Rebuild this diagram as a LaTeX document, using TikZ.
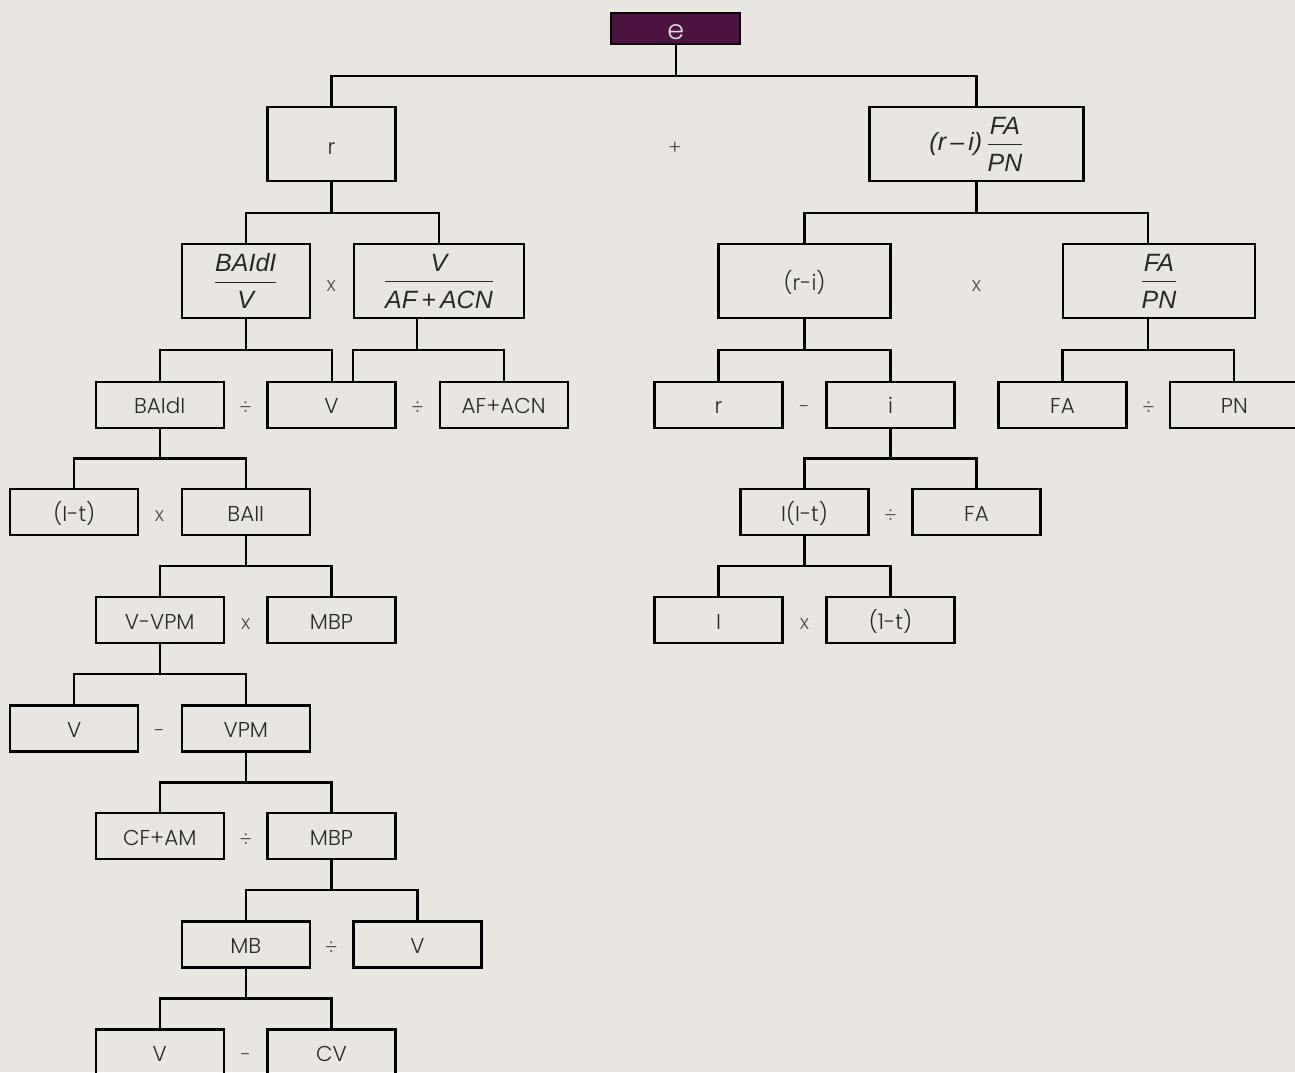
\documentclass[tikz,border=0pt]{standalone}
\usepackage{fontspec}
\usepackage{amsmath}
\setmainfont{Poppins}[UprightFont={* Light}]
\newfontfamily\fitfont{Liberation Sans}
\usetikzlibrary{calc}
\definecolor{bg}{RGB}{233,230,225}
\definecolor{plum}{RGB}{75,19,64}
\definecolor{txt}{RGB}{40,40,40}
\definecolor{opc}{RGB}{80,80,80}
\tikzset{
  conn/.style={line width=2.2pt},
  frame/.style={draw=black, line width=2.2pt, minimum width=128pt, minimum height=46pt,
    inner sep=0pt, text=txt, font=\fontsize{21.5}{25}\selectfont},
  box/.style={frame, text height=18pt, text depth=0pt},
  bigbox/.style={frame, minimum height=74pt, font=\fontsize{25}{30}\selectfont},
  oper/.style={text=opc, font=\fontsize{20}{22}\selectfont, inner sep=0pt},
}
\newcommand\fr[2]{$\displaystyle\frac{\text{\fitfont\itshape #1}\rule[-4pt]{0pt}{4pt}}{\text{\fitfont\itshape #2}\rule{0pt}{23pt}}$}
\newcommand\branch[3]{%
  \path ($(#1)!.5!(#2)$) coordinate (tmp);
  \draw[conn] (#1) -- (#1 |- tmp);
  \draw[conn] (#2) |- (tmp) -| (#3);
}
\begin{document}
\begin{tikzpicture}[x=1pt,y=-1pt]
\fill[bg] (0,0) rectangle (1295,1072);
\useasboundingbox (0,0) rectangle (1295,1072);
\clip (0,0) rectangle (1295,1072);

% level 0
\node[box, fill=plum, minimum width=129pt, minimum height=31pt, text=white!85!plum,
  font=\fontsize{27}{29}\selectfont, text height=21pt] (e) at (675.8,28.8) {e};
% level 1
\node[bigbox, text height=20pt, text depth=0pt, font=\fontsize{21.5}{25}\selectfont] (r) at (331.5,144) {r};
\node[bigbox, minimum width=214pt] (rf) at (976.5,144) {{\fitfont\itshape (r\,–\,i)}\,\fr{FA}{PN}};
\node[oper] (op0) at (675,148) {+};
% level 2
\node[bigbox] (bv) at (245.8,281.3) {\fr{BAIdI}{V}};
\node[bigbox, minimum width=170pt] (vf) at (439,281.3) {\fr{V}{AF\,+\,ACN}};
\node[bigbox, minimum width=172pt, text height=18pt, text depth=0pt, font=\fontsize{21.5}{25}\selectfont] (ri) at (804.5,281.3) {(r-i)};
\node[bigbox, minimum width=192pt] (fp) at (1159,281.3) {\fr{FA}{PN}};
\node[oper] (op1) at (331.3,286.5) {x};
\node[oper] (op2) at (976.5,286.5) {x};
% level 3
\node[box] (baidi) at (159.7,404.7) {BAIdI};
\node[box] (v3) at (331.5,404.7) {V};
\node[box] (afacn) at (503.7,404.7) {AF+ACN};
\node[box] (r3) at (718.5,404.7) {r};
\node[box] (i3) at (890.5,404.7) {i};
\node[box] (fa3) at (1062.5,404.7) {FA};
\node[box] (pn3) at (1234.3,404.7) {PN};
\node[oper] (op3) at (245.5,408) {÷};
\node[oper] (op4) at (417.5,408) {÷};
\node[oper] (op5) at (804.5,409) {-};
\node[oper] (op6) at (1148.5,408) {÷};
% level 4
\node[box] (it) at (74.3,512.3) {(I-t)};
\node[box] (baii) at (245.8,512.3) {BAII};
\node[box] (ilt) at (804.5,512.3) {I(I-t)};
\node[box] (fa4) at (976.5,512.3) {FA};
\node[oper] (op7) at (159.5,516) {x};
\node[oper] (op8) at (890.5,515.7) {÷};
% level 5
\node[box] (vvpm) at (159.7,620.2) {V-VPM};
\node[box] (mbp5) at (331.5,620.2) {MBP};
\node[box] (i5) at (718.5,620.2) {I};
\node[box] (onet) at (890.5,620.2) {(1-t)};
\node[oper] (op9) at (245.7,623.8) {x};
\node[oper] (op10) at (804.5,623.8) {x};
% level 6
\node[box] (v6) at (74.3,728.5) {V};
\node[box] (vpm) at (245.8,728.5) {VPM};
\node[oper] (op11) at (159.5,733) {-};
% level 7
\node[box] (cfam) at (159.7,836.3) {CF+AM};
\node[box] (mbp7) at (331.5,836.3) {MBP};
\node[oper] (op12) at (245.7,840) {÷};
% level 8
\node[box] (mb) at (245.8,944.4) {MB};
\node[box] (v8) at (417.5,944.4) {V};
\node[oper] (op13) at (331.3,948) {÷};
% level 9
\node[box] (v9) at (159.7,1052.5) {V};
\node[box] (cv) at (331.5,1052.5) {CV};
\node[oper] (op14) at (245.7,1057.5) {-};

% off-centre connection points
\coordinate (fpT) at ($(fp.north)+(-11,0)$);
\coordinate (fpB) at ($(fp.south)+(-11,0)$);
\coordinate (vfB) at ($(vf.south)+(-22.3,0)$);
\coordinate (v3R) at ($(v3.north)+(21.2,0)$);
\coordinate (v3L) at ($(v3.north)+(0.5,0)$);

% connectors
\branch{e.south}{r.north}{rf.north}
\branch{r.south}{bv.north}{vf.north}
\branch{rf.south}{ri.north}{fpT}
\branch{bv.south}{baidi.north}{v3L}
\branch{vfB}{v3R}{afacn.north}
\branch{ri.south}{r3.north}{i3.north}
\branch{fpB}{fa3.north}{pn3.north}
\branch{baidi.south}{it.north}{baii.north}
\branch{i3.south}{ilt.north}{fa4.north}
\branch{baii.south}{vvpm.north}{mbp5.north}
\branch{ilt.south}{i5.north}{onet.north}
\branch{vvpm.south}{v6.north}{vpm.north}
\branch{vpm.south}{cfam.north}{mbp7.north}
\branch{mbp7.south}{mb.north}{v8.north}
\branch{mb.south}{v9.north}{cv.north}
\end{tikzpicture}
\end{document}
